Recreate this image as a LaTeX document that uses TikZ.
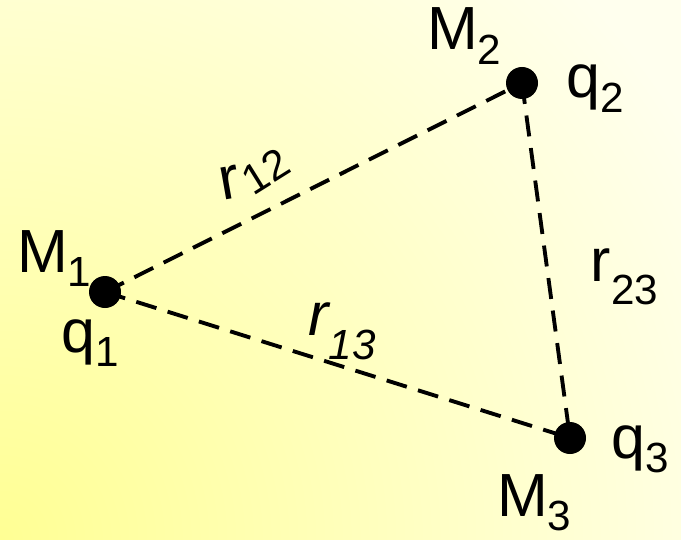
\documentclass[tikz,border=0pt]{standalone}
\usepackage{fontspec}
\setmainfont{Liberation Sans}
\usetikzlibrary{positioning}
\definecolor{bgyellow}{RGB}{255, 255, 148}
\definecolor{bgwhite}{RGB}{255, 255, 238}
\newcommand{\lowidx}[2][12pt]{%
    \raisebox{-#1}{\fontsize{36}{36}\selectfont #2}%
}

\begin{document}
\begin{tikzpicture}[
    x=0.03cm, y=-0.03cm,
    mass/.style={circle, fill=black,
                 minimum size=0.96cm, inner sep=0pt},
    lab/.style={font=\fontsize{52}{60}\selectfont,
                inner sep=0pt},
    link/.style={line width=3.3pt,
                 dash pattern=on 18pt off 10pt},
]

% -- Background -------------------------------
\useasboundingbox (0,0) rectangle (681,539);
\fill[bgwhite] (0,0) rectangle (681,539);
\begin{scope}
  \clip (0,0) rectangle (681,539);
  \shade[inner color=bgyellow, outer color=bgwhite]
      (0,539) circle [radius=24cm];
\end{scope}

% -- Masses -----------------------------------
\node[mass] (m1) at (105,292) {};
\node[mass] (m2) at (522,83)  {};
\node[mass] (m3) at (570,438) {};

% -- Mass and charge labels -------------------
\node[lab, anchor=base west] (lm1) at (17,272)
    {M\lowidx{1}};
\node[lab, anchor=base west] (lq1) at (61,352)
    {q\lowidx{1}};
\node[lab, anchor=base west] (lm2) at (427,50)
    {M\lowidx{2}};
\node[lab, anchor=base west] (lq2) at (566,98)
    {q\lowidx{2}};
\node[lab, anchor=base west] (lm3) at (497,516)
    {M\lowidx{3}};
\node[lab, anchor=base west] (lq3) at (611,458)
    {q\lowidx{3}};

% -- Distances --------------------------------
\draw[link] (m1.center) -- node[lab, pos=0.362,
    yshift=37pt, rotate=10]
    {r\lowidx[1pt]{\rotatebox{22}{12}}} (m2.center);
\draw[link] (m1.center) -- node[lab, pos=0.51,
    yshift=30pt, font=\fontsize{52}{60}\selectfont\itshape]
    {r\lowidx[20pt]{13}} (m3.center);
\draw[link] (m2.center) -- node[lab, pos=0.546,
    xshift=65pt]
    {r\lowidx[20pt]{23}} (m3.center);

\end{tikzpicture}
\end{document}
